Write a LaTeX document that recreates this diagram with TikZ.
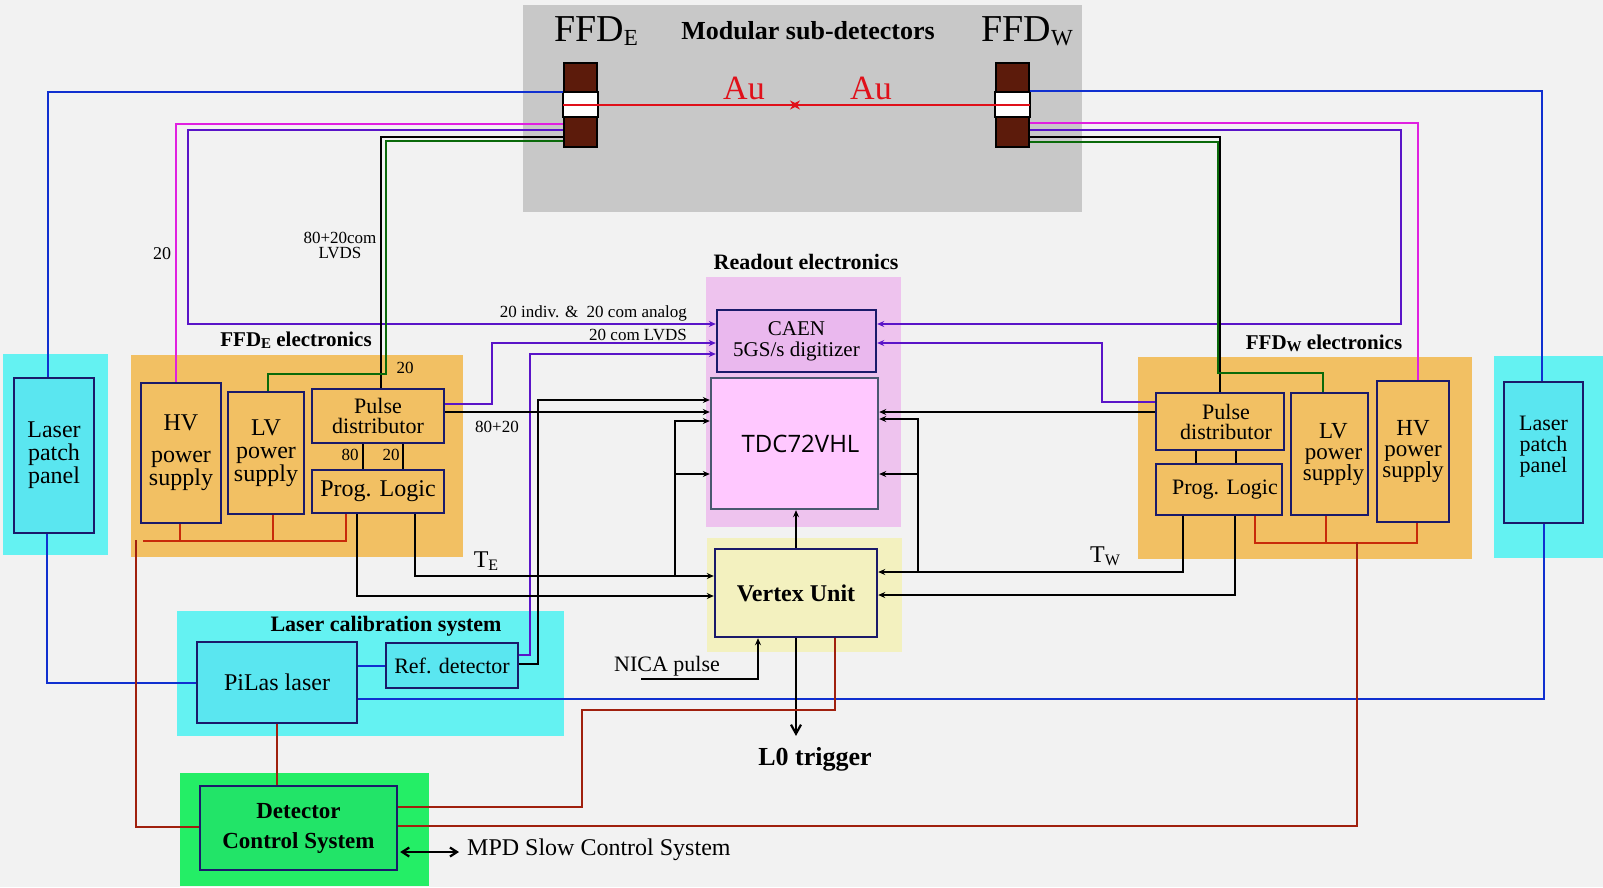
\documentclass[tikz,border=0pt]{standalone}
\usepackage{fontspec}
\setmainfont{Liberation Serif}
\newfontfamily\tdcfont{Open Sans}
\usetikzlibrary{arrows.meta}
\newcommand{\myfs}[2]{\fontsize{#1}{#2}\selectfont}
\definecolor{bgc}{HTML}{F2F2F2}
\definecolor{graybg}{HTML}{C8C8C8}
\definecolor{orangebg}{HTML}{F2C063}
\definecolor{cyanbg}{HTML}{64F2F2}
\definecolor{cyanbox}{HTML}{5AE6F0}
\definecolor{pinkbg}{HTML}{EEC3EE}
\definecolor{caenfill}{HTML}{EAB8EE}
\definecolor{tdcfill}{HTML}{FFC8FF}
\definecolor{tdcborder}{HTML}{4A5870}
\definecolor{yellowbg}{HTML}{F3F1BF}
\definecolor{greenbg}{HTML}{24EE66}
\definecolor{greenbox}{HTML}{22E468}
\definecolor{navy}{HTML}{1A1A6A}
\definecolor{brownd}{HTML}{5C1B0B}
\definecolor{blueline}{HTML}{1030D0}
\definecolor{magline}{HTML}{E020E0}
\definecolor{purline}{HTML}{5A14C8}
\definecolor{grnline}{HTML}{0A6A0A}
\definecolor{busred}{HTML}{C82A0A}
\definecolor{darkred}{HTML}{A0200E}
\definecolor{aured}{HTML}{E0101A}
\begin{document}
\begin{tikzpicture}[x=1pt,y=-1pt,
  region/.style={fill=#1, draw=none, inner sep=0pt},
  box/.style={fill=#1, draw=navy, line width=2.4pt, inner sep=0pt, align=center},
  det/.style={fill=brownd, draw=black, line width=1.8pt, inner sep=0pt, minimum width=33pt, minimum height=84pt},
  lbl/.style={inner sep=0pt, align=center},
  sig/.style={line width=2.2pt, black},
  blu/.style={line width=2pt, blueline},
  mag/.style={line width=2pt, magline},
  pur/.style={line width=2pt, purline},
  grn/.style={line width=2pt, grnline},
  rbus/.style={line width=2pt, busred},
  rdk/.style={line width=2pt, darkred},
  arr/.style={-{Stealth[length=7pt,width=6pt]}},
]
\useasboundingbox (0,0) rectangle (1603,887);
\fill[bgc] (0,0) rectangle (1603,887);

% background regions
\node[region=graybg, minimum width=559pt, minimum height=207pt] (modreg) at (802.5,108.5) {};
\node[region=cyanbg, minimum width=105pt, minimum height=201pt] (lppEreg) at (55.5,454.5) {};
\node[region=cyanbg, minimum width=109pt, minimum height=202pt] (lppWreg) at (1548.5,457) {};
\node[region=orangebg, minimum width=332pt, minimum height=202pt] (ffdEreg) at (297,456) {};
\node[region=orangebg, minimum width=334pt, minimum height=202pt] (ffdWreg) at (1305,458) {};
\node[region=pinkbg, minimum width=195pt, minimum height=250pt] (roreg) at (803.5,402) {};
\node[region=yellowbg, minimum width=195pt, minimum height=114pt] (vxreg) at (804.5,595) {};
\node[region=cyanbg, minimum width=387pt, minimum height=125pt] (lcreg) at (370.5,673.5) {};
\node[region=greenbg, minimum width=249pt, minimum height=113pt] (dcsreg) at (304.5,829.5) {};

% region titles
\node[lbl, font={\myfs{38}{38}}] (ffdEt) at (596,31) {FFD\raisebox{-4pt}{\myfs{23}{23}E}};
\node[lbl, font={\bfseries\myfs{26}{26}}] (modt) at (808,31) {Modular sub-detectors};
\node[lbl, font={\myfs{38}{38}}] (ffdWt) at (1027,31) {FFD\raisebox{-4pt}{\myfs{23}{23}W}};
\node[lbl, font={\bfseries\myfs{22}{22}}] (rot) at (806,262) {Readout electronics};
\node[lbl, font={\bfseries\myfs{21}{21}}] (ffdEel) at (296,340) {FFD{\myfs{15}{15}\raisebox{-2pt}{E}} electronics};
\node[lbl, font={\bfseries\myfs{21}{21}}] (ffdWel) at (1324,343) {FFD{\myfs{15}{15}\raisebox{-2pt}{W}} electronics};
\node[lbl, font={\bfseries\myfs{22}{22}}] (lct) at (386,626) {Laser calibration system};

% detectors
\node[det] (detE) at (580.5,105) {};
\node[det] (detW) at (1012.5,105) {};
\draw[line width=1.5pt, fill=white] ([yshift=13pt]detE.west) rectangle ([yshift=-12pt]detE.east);
\draw[line width=1.5pt, fill=white] ([yshift=13pt]detW.west) rectangle ([yshift=-12pt]detW.east);
\coordinate (ipE) at (799,105);
\coordinate (ipW) at (791,105);
\draw[line width=2pt, aured, -{Stealth[length=9pt,width=9pt]}] (detE.west) -- (ipE);
\draw[line width=2pt, aured, -{Stealth[length=9pt,width=9pt]}] (detW.east) -- (ipW);
\node[lbl, text=aured, font={\myfs{34}{34}}] (auE) at (744,88) {Au};
\node[lbl, text=aured, font={\myfs{34}{34}}] (auW) at (871,88) {Au};

% boxes
\node[box=cyanbox, minimum width=80pt, minimum height=155pt, font={\myfs{24}{23}}] (lppE) at (54,455.5) {Laser\\patch\\panel};
\node[box=cyanbox, minimum width=79pt, minimum height=141pt, font={\myfs{22}{21}}] (lppW) at (1543.5,452.5) {Laser\\patch\\panel\\[-4pt]\mbox{}};
\node[box=orangebg, minimum width=80pt, minimum height=140pt, font={\myfs{24}{23}}] (hvE) at (181,453) {HV\\[9pt]power\\supply};
\node[box=orangebg, minimum width=76pt, minimum height=122pt, font={\myfs{24}{23}}] (lvE) at (266,453) {LV\\power\\supply};
\node[box=orangebg, minimum width=132pt, minimum height=54pt, font={\myfs{22}{20}}] (pdE) at (378,416) {Pulse\\distributor};
\node[box=orangebg, minimum width=132pt, minimum height=43pt, font={\myfs{24}{24}}] (plE) at (378,491.5) {Prog. Logic};
\node[box=orangebg, minimum width=128pt, minimum height=57pt, font={\myfs{22}{20}}] (pdW) at (1220,421.5) {\hspace*{12pt}Pulse\\\hspace*{12pt}distributor};
\node[box=orangebg, minimum width=126pt, minimum height=51pt, font={\myfs{22}{22}}] (plW) at (1219,489.5) {\hspace*{12pt}Prog. Logic};
\node[box=orangebg, minimum width=77pt, minimum height=122pt, font={\myfs{23}{21}}] (lvW) at (1329.5,454) {\hspace*{8pt}LV\\\hspace*{8pt}power\\\hspace*{8pt}supply};
\node[box=orangebg, minimum width=72pt, minimum height=141pt, font={\myfs{23}{21}}] (hvW) at (1413,451.5) {HV\\power\\supply};
\node[box=caenfill, minimum width=159pt, minimum height=62pt, font={\myfs{21}{21}}] (caen) at (796.5,341) {CAEN\\5GS/s digitizer};
\node[box=tdcfill, draw=tdcborder, minimum width=167pt, minimum height=131pt, font={\tdcfont\myfs{24}{24}}] (tdc) at (794.5,443.5) {\hspace*{12pt}TDC72VHL};
\node[box=yellowbg, minimum width=162pt, minimum height=88pt, font={\bfseries\myfs{24}{24}}] (vertex) at (796,593) {Vertex Unit};
\node[box=cyanbox, minimum width=160pt, minimum height=81pt, font={\myfs{24}{24}}] (pilas) at (277,682.5) {PiLas laser};
\node[box=cyanbox, minimum width=132pt, minimum height=45pt, font={\myfs{22}{22}}] (refdet) at (452,665.5) {Ref. detector};
\node[box=greenbox, minimum width=197pt, minimum height=84pt, font={\bfseries\myfs{23}{30}}] (dcs) at (298.5,828) {Detector\\Control System};

% free labels
\node[lbl, font={\bfseries\myfs{26}{26}}] (l0) at (815,759) {L0 trigger};
\node[lbl, font={\myfs{22}{22}}] (nica) at (667,666) {NICA pulse};
\node[lbl, anchor=west, font={\myfs{24}{24}}] (mpd) at (467,850) {MPD Slow Control System};
\node[lbl, font={\myfs{24}{24}}] (te) at (486,561) {T{\myfs{16}{16}\raisebox{-3pt}{E}}};
\node[lbl, font={\myfs{24}{24}}] (tw) at (1105,556) {T{\myfs{16}{16}\raisebox{-3pt}{W}}};
\node[lbl, font={\myfs{18}{18}}] (n20a) at (162,254) {20};
\node[lbl, font={\myfs{17}{15}}] (nlvds) at (340,245.5) {80+20com\\LVDS};
\node[lbl, font={\myfs{17}{17}}] (n20b) at (405,368) {20};
\node[lbl, font={\myfs{17}{17}}] (n8020) at (497,427) {80+20};
\node[lbl, font={\myfs{17}{17}}] (n80) at (350,455) {80};
\node[lbl, font={\myfs{17}{17}}] (n20c) at (391,455) {20};
\node[lbl, anchor=east, font={\myfs{17}{17}}] (nana) at (687,313) {20 indiv. \&\ \ 20 com analog};
\node[lbl, anchor=east, font={\myfs{17}{17}}] (ncom) at (687,335) {20 com LVDS};

% blue laser fibres
\draw[blu] ([xshift=-6pt]lppE.north) |- ([yshift=13pt]detE.west);
\draw[blu] ([xshift=-7pt]lppE.south) |- (pilas.west);
\draw[blu] ([yshift=14pt]detW.east) -| ([xshift=-1.5pt]lppW.north);
\draw[blu] (lppW.south) |- ([yshift=-16.5pt]pilas.east);
\draw[blu] (pilas.east |- refdet.west) -- (refdet.west);

% magenta HV
\draw[mag] ([xshift=-5pt]hvE.north) |- ([yshift=-19pt]detE.west);
\draw[mag] ([xshift=5pt]hvW.north) |- ([yshift=-18pt]detW.east);

% purple analog / LVDS
\draw[pur,arr] ([yshift=-25pt]detE.west) -- ++(-375,0) |- ([yshift=17pt]caen.west);
\draw[pur,arr] ([yshift=-25pt]detW.east) -- ++(371,0) |- ([yshift=17pt]caen.east);
\draw[pur,arr] ([yshift=12pt]pdE.east) -- ++(47,0) |- ([yshift=-2pt]caen.west);
\draw[pur,arr] ([yshift=19.5pt]pdW.west) -- ++(-53,0) |- ([yshift=-2pt]caen.east);
\draw[pur,arr] ([yshift=10.5pt]refdet.east) -- ++(11,0) |- ([yshift=-13pt]caen.west);

% black signal to detectors
\draw[sig] ([xshift=3pt]pdE.north) |- ([yshift=-32pt]detE.west);
\draw[sig] (pdW.north) |- ([yshift=-32pt]detW.east);

% green LV
\draw[grn] ([xshift=2pt]lvE.north) -- ++(0,-17) -- ++(118,0) |- ([yshift=-36pt]detE.west);
\draw[grn] ([xshift=-7pt]lvW.north) -- ++(0,-19) -- ++(-105,0) |- ([yshift=-37pt]detW.east);

% pulse distributor - prog logic
\draw[sig] ([xshift=-15pt]pdE.south) -- ([xshift=-15pt]plE.north);
\draw[sig] ([xshift=25pt]pdE.south) -- ([xshift=25pt]plE.north);
\draw[sig] ([xshift=-24pt]pdW.south) -- ([xshift=-23pt]plW.north);
\draw[sig] ([xshift=16pt]pdW.south) -- ([xshift=17pt]plW.north);

% black arrows to TDC / Vertex (east side)
\draw[sig,arr] ([yshift=4pt]pdE.east) -- ([yshift=31.5pt]tdc.west);
\draw[sig,arr] ([yshift=1.5pt]refdet.east) -- ++(19,0) |- ([yshift=43.5pt]tdc.west);
\draw[sig,arr] ([xshift=37pt]plE.south) |- ([yshift=17pt]vertex.west);
\coordinate (teB) at ([xshift=-39pt,yshift=17pt]vertex.west);
\draw[sig,arr] (teB) |- ([yshift=22.5pt]tdc.west);
\draw[sig,arr] (teB) ++(0,-102) -- ([yshift=-30.5pt]tdc.west);
\draw[sig,arr] ([xshift=-21pt]plE.south) |- ([yshift=-3pt]vertex.west);

% west side
\draw[sig,arr] ([yshift=9.5pt]pdW.west) -- ([yshift=31.5pt]tdc.east);
\draw[sig,arr] ([xshift=-36pt]plW.south) |- ([yshift=21pt]vertex.east);
\coordinate (twB) at ([xshift=40pt,yshift=21pt]vertex.east);
\draw[sig,arr] (twB) |- ([yshift=24.5pt]tdc.east);
\draw[sig,arr] (twB) ++(0,-98) -- ([yshift=-30.5pt]tdc.east);
\draw[sig,arr] ([xshift=16pt]plW.south) |- ([yshift=-2pt]vertex.east);

% vertex connections
\draw[sig,arr] (vertex.north) -- (vertex.north |- tdc.south);
\draw[sig,-{Straight Barb[length=9pt,width=10pt]}, shorten >=11pt] (vertex.south) -- (vertex.south |- l0.north);
\coordinate (nicaS) at (641,679);
\draw[sig,arr] (nicaS) -| ([xshift=-38pt]vertex.south);
\draw[sig,{Straight Barb[length=7pt,width=9pt]}-{Straight Barb[length=7pt,width=9pt]}] ([xshift=2pt,yshift=-24pt]dcs.east) -- ([xshift=-8pt,yshift=-2pt]mpd.west);

% red power / control
\draw[rbus] ([xshift=-32pt]plE.south) -- ++(0,27) -- ++(-203,0);
\draw[rbus] ([xshift=-1pt]hvE.south) -- ++(0,17);
\draw[rbus] ([xshift=7pt]lvE.south) -- ++(0,26);
\draw[rdk] ([yshift=1pt]dcs.west) -- ++(-63,0) -- ++(0,-287);
\draw[rbus] ([xshift=36pt]plW.south) -- ++(0,27) -| ([xshift=4pt]hvW.south);
\draw[rbus] ([xshift=-3.5pt]lvW.south) -- ++(0,27);
\draw[rdk] ([yshift=2pt]dcs.east) -- ++(959,0) -- ++(0,-284);
\draw[rdk] ([yshift=21pt]dcs.east) -- ++(184,0) -- ++(0,-97) -| ([xshift=39pt]vertex.south);
\draw[rdk] (pilas.south) -- (pilas.south |- dcs.north);
\end{tikzpicture}
\end{document}
